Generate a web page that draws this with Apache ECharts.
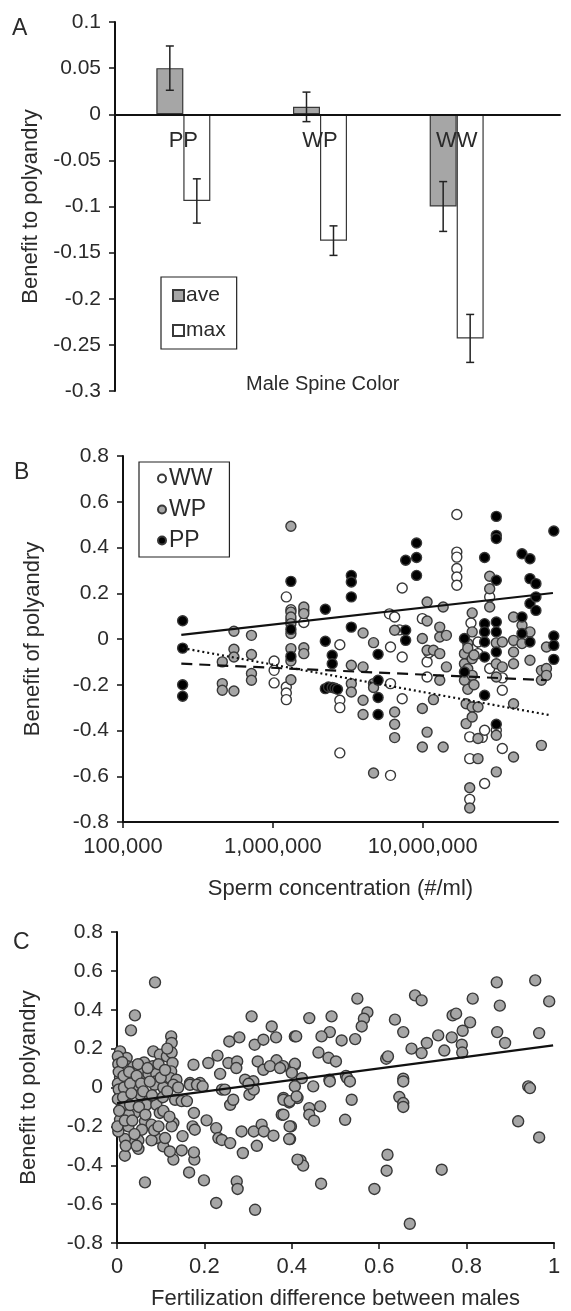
<!DOCTYPE html>
<html>
<head>
<meta charset="utf-8">
<script src="https://cdn.jsdelivr.net/npm/echarts@6/dist/echarts.min.js"></script>
<style>
html,body{margin:0;padding:0;background:#fff}
#chart{width:571px;height:1311px}
</style>
</head>
<body>
<div id="chart"></div>
<script>
// ---- panel A: bars by male spine colour
const spineColors = ['PP', 'WP', 'WW']
const aveBenefit = [0.05, 0.008, -0.1]
const aveErr = [0.024, 0.016, 0.027]
const maxBenefit = [-0.094, -0.137, -0.243]
const maxErr = [0.024, 0.016, 0.026]

// ---- panel B: benefit vs sperm concentration, [conc (#/ml), benefit]
const wwPoints = [
	[1.02e6,-0.096],[1.02e6,-0.137],[1.02e6,-0.192],
	[1.23e6,0.184],[1.23e6,-0.21],[1.23e6,-0.236],[1.23e6,-0.265],
	[1.32e6,0.128],[1.32e6,0.082],[1.61e6,0.125],[1.61e6,0.072],
	[2.8e6,-0.025],[2.8e6,-0.268],[2.8e6,-0.3],[2.8e6,-0.498],
	[6.0e6,0.11],[6.1e6,-0.035],[6.1e6,-0.195],[6.1e6,-0.596],[6.5e6,0.096],
	[7.0e6,0.04],[7.3e6,0.223],[7.3e6,-0.079],[7.3e6,-0.261],
	[9.95e6,0.089],[1.07e7,-0.1],[1.07e7,-0.166],[1.1e7,-0.06],
	[1.69e7,0.544],[1.69e7,0.38],[1.69e7,0.358],[1.69e7,0.308],[1.69e7,0.271],[1.69e7,0.235],
	[2.06e7,-0.428],[2.06e7,-0.523],[2.06e7,-0.701],[2.1e7,0.07],[2.16e7,-0.045],
	[2.34e7,-0.013],[2.34e7,-0.064],[2.5e7,-0.43],[2.59e7,-0.632],[2.59e7,-0.399],
	[2.8e7,-0.129],[2.8e7,0.184],[3.1e7,-0.399],[3.4e7,-0.224],[3.4e7,-0.479],[3.4e7,-0.17]
]
const wpPoints = [
	[4.6e5,-0.1],[4.6e5,-0.195],[4.6e5,-0.224],
	[5.5e5,0.034],[5.5e5,-0.045],[5.5e5,-0.079],[5.5e5,-0.227],
	[7.2e5,0.016],[7.2e5,-0.068],[7.2e5,-0.151],[7.2e5,-0.18],
	[1.32e6,0.493],[1.32e6,0.118],[1.32e6,0.096],[1.32e6,0.067],[1.32e6,0.024],[1.32e6,-0.042],[1.32e6,-0.096],[1.32e6,-0.178],
	[1.61e6,0.14],[1.61e6,0.111],[1.61e6,-0.038],[1.61e6,-0.064],
	[3.34e6,-0.115],[3.34e6,-0.195],[3.34e6,-0.232],
	[4.0e6,0.026],[4.0e6,-0.122],[4.0e6,-0.268],[4.0e6,-0.33],
	[4.7e6,-0.016],[4.7e6,-0.195],[4.7e6,-0.212],[4.7e6,-0.586],
	[6.5e6,0.038],[6.5e6,-0.319],[6.5e6,-0.373],[6.5e6,-0.431],
	[9.95e6,0.002],[9.95e6,-0.304],[9.95e6,-0.472],
	[1.07e7,0.162],[1.07e7,0.079],[1.07e7,-0.049],[1.07e7,-0.407],
	[1.18e7,-0.049],[1.18e7,-0.265],
	[1.3e7,0.052],[1.3e7,0.009],[1.3e7,-0.064],[1.3e7,-0.18],
	[1.37e7,0.14],[1.37e7,-0.472],[1.44e7,0.016],[1.44e7,-0.122],
	[1.9e7,-0.064],[1.9e7,-0.108],[1.9e7,-0.18],[1.95e7,-0.283],[1.95e7,-0.37],
	[2.0e7,-0.02],[2.0e7,-0.04],[2.0e7,-0.13],[2.0e7,-0.22],
	[2.06e7,-0.65],[2.06e7,-0.739],
	[2.14e7,0.114],[2.14e7,0.031],[2.14e7,-0.086],[2.14e7,-0.159],[2.14e7,-0.297],[2.14e7,-0.341],
	[2.2e7,-0.07],[2.2e7,-0.2],
	[2.34e7,-0.297],[2.34e7,-0.435],[2.34e7,-0.523],
	[2.8e7,0.274],[2.8e7,0.22],[2.8e7,0.14],
	[3.1e7,-0.017],[3.1e7,-0.108],[3.1e7,-0.166],[3.1e7,-0.421],[3.1e7,-0.581],
	[3.4e7,-0.013],[3.4e7,-0.122],
	[4.04e7,0.096],[4.04e7,-0.006],[4.04e7,-0.057],[4.04e7,-0.108],[4.04e7,-0.283],[4.04e7,-0.516],
	[4.6e7,0.06],[4.6e7,-0.02],[5.2e7,0.031],[5.2e7,-0.093],
	[6.2e7,-0.137],[6.2e7,-0.18],[6.2e7,-0.465],
	[6.7e7,-0.035],[6.7e7,-0.129],[6.7e7,-0.159]
]
const ppPoints = [
	[2.5e5,0.08],[2.5e5,-0.04],[2.5e5,-0.2],[2.5e5,-0.25],
	[1.32e6,0.252],[1.32e6,0.042],[1.32e6,-0.076],
	[2.24e6,0.13],[2.24e6,-0.01],[2.24e6,-0.217],
	[2.35e6,-0.21],[2.49e6,-0.071],[2.49e6,-0.108],[2.49e6,-0.212],[2.6e6,-0.215],[2.7e6,-0.22],
	[3.34e6,0.278],[3.34e6,0.249],[3.34e6,0.184],[3.34e6,0.052],
	[5.04e6,-0.067],[5.04e6,-0.18],[5.04e6,-0.256],[5.04e6,-0.33],
	[7.7e6,0.344],[7.7e6,0.038],[7.7e6,-0.006],
	[9.1e6,0.42],[9.1e6,0.356],[9.1e6,0.278],
	[1.9e7,0.002],[1.9e7,-0.144],
	[2.59e7,0.356],[2.59e7,0.067],[2.59e7,0.031],[2.59e7,-0.013],[2.59e7,-0.079],[2.59e7,-0.246],
	[3.1e7,0.536],[3.1e7,0.453],[3.1e7,0.439],[3.1e7,0.257],[3.1e7,0.074],[3.1e7,0.031],[3.1e7,-0.057],[3.1e7,-0.373],
	[4.6e7,0.373],[4.6e7,0.096],[4.6e7,0.024],
	[5.2e7,0.351],[5.2e7,0.264],[5.2e7,0.155],[5.2e7,-0.013],
	[5.7e7,0.242],[5.7e7,0.184],[5.7e7,0.125],
	[7.5e7,0.472],[7.5e7,0.013],[7.5e7,-0.028],[7.5e7,-0.089]
]
const concTicks = [100000, 1000000, 10000000]
// fitted lines (end points)
const ppFit = [[2.45e5, 0.018], [7.4e7, 0.201]]
const wpFit = [[2.45e5, -0.108], [6.7e7, -0.18]]
const wwFit = [[2.5e5, -0.04], [7.2e7, -0.334]]

// ---- panel C: benefit vs fertilization difference, [diff, benefit]
const fertPoints = [
	[0.087,0.541],[0.041,0.371],[0.032,0.294],[0.007,0.186],[0.006,0.143],[0.007,0.092],[0.007,0.05],[0.022,0.152],
	[0.024,0.109],[0.037,0.105],[0.022,0.044],[0.062,0.129],[0.06,0.075],[0.072,0.07],[0.083,0.186],[0.098,0.169],
	[0.082,0.109],[0.09,0.07],[0.088,0.031],[0.114,0.16],[0.124,0.263],[0.125,0.229],[0.125,0.18],[0.127,0.126],
	[0.124,0.083],[0.122,0.048],[0.136,0.04],[0.175,0.117],[0.167,0.023],[0.19,0.023],[0.209,0.126],[0.23,0.164],
	[0.236,0.07],[0.255,0.126],[0.257,0.237],[0.28,0.258],[0.275,0.134],[0.273,0.1],[0.308,0.366],[0.315,0.22],
	[0.322,0.134],[0.335,0.246],[0.335,0.091],[0.354,0.314],[0.364,0.258],[0.365,0.14],[0.35,0.11],[0.38,0.11],
	[0.407,0.263],[0.407,0.117],[0.293,0.04],[0.312,0.032],
	[0.869,0.541],[0.957,0.551],[0.989,0.443],[0.876,0.421],[0.814,0.457],[0.682,0.474],[0.697,0.448],[0.55,0.457],
	[0.573,0.386],[0.565,0.354],[0.56,0.314],[0.636,0.349],[0.655,0.285],[0.768,0.371],[0.776,0.38],[0.808,0.335],
	[0.791,0.292],[0.87,0.285],[0.966,0.28],[0.888,0.229],[0.735,0.268],[0.766,0.258],[0.709,0.229],[0.674,0.2],
	[0.697,0.177],[0.749,0.19],[0.789,0.22],[0.79,0.18],[0.616,0.148],[0.62,0.16],[0.655,0.045],[0.545,0.249],
	[0.514,0.242],[0.487,0.285],[0.468,0.263],[0.491,0.366],[0.44,0.357],[0.41,0.263],[0.461,0.18],[0.484,0.153],
	[0.501,0.134],[0.407,0.122],[0.4,0.075],[0.423,0.048],[0.486,0.04],[0.524,0.06],[0.527,0.048],[0.449,0.006],
	[0.941,0.006],[0.373,0.1],
	[0.945,-0.003],[0.918,-0.174],[0.966,-0.257],[0.743,-0.423],[0.67,-0.701],[0.619,-0.346],[0.617,-0.428],[0.589,-0.522],
	[0.467,-0.495],[0.42,-0.375],[0.426,-0.402],[0.396,-0.265],[0.398,-0.2],[0.377,-0.14],[0.381,-0.054],[0.394,-0.077],
	[0.413,-0.054],[0.44,-0.106],[0.44,-0.14],[0.465,-0.097],[0.451,-0.171],[0.407,0.006],[0.487,0.031],[0.522,-0.166],
	[0.537,-0.063],[0.533,0.031],[0.646,-0.049],[0.655,-0.08],[0.655,-0.1],[0.655,0.031],
	[0.064,-0.488],[0.018,-0.351],[0.227,-0.594],[0.316,-0.629],[0.199,-0.478],[0.274,-0.483],[0.276,-0.522],[0.165,-0.437],
	[0.288,-0.337],[0.32,-0.3],[0.177,-0.371],[0.129,-0.371],[0.148,-0.324],[0.176,-0.334],[0.106,-0.303],[0.121,-0.329],
	[0.09,-0.26],[0.079,-0.272],[0.049,-0.316],[0.049,-0.272],[0.034,-0.272],[0.018,-0.265],[0.003,-0.226],[0.007,-0.166],
	[0.011,-0.097],[0.007,-0.042],[0.022,0.006],[0.045,0.0],[0.041,-0.131],[0.026,-0.2],[0.027,-0.14],[0.064,-0.174],
	[0.079,-0.191],[0.057,-0.217],[0.053,-0.037],[0.076,-0.046],[0.067,-0.089],[0.09,-0.089],[0.098,-0.131],[0.106,-0.12],
	[0.086,0.014],[0.106,0.0],[0.129,0.014],[0.133,-0.063],[0.129,-0.183],[0.125,-0.2],[0.148,-0.07],[0.167,0.014],
	[0.183,0.014],[0.196,0.006],[0.176,-0.131],[0.173,-0.2],[0.178,-0.217],[0.16,-0.07],[0.205,-0.169],[0.227,-0.209],
	[0.232,-0.26],[0.24,-0.27],[0.259,-0.286],[0.259,-0.089],[0.266,-0.063],[0.24,-0.011],[0.247,-0.011],[0.285,-0.226],
	[0.313,-0.226],[0.331,-0.191],[0.336,-0.226],[0.358,-0.248],[0.303,-0.037],[0.313,-0.011],[0.301,0.019],[0.381,-0.14],
	[0.394,-0.265],[0.395,-0.2],[0.381,-0.063],[0.395,-0.07],[0.411,-0.046],[0.413,-0.371],
	[0.002,0.16],[0.003,0.12],[0.004,0.08],[0.002,0.02],[0.004,-0.01],[0.002,-0.06],[0.005,-0.12],[0.001,-0.2],
	[0.012,0.13],[0.015,0.06],[0.016,0.0],[0.014,-0.05],[0.018,-0.17],[0.028,0.08],[0.03,0.02],[0.033,-0.03],
	[0.03,-0.09],[0.035,-0.17],[0.04,-0.24],[0.045,0.06],[0.048,0.12],[0.05,-0.1],[0.055,0.02],[0.06,-0.02],
	[0.065,-0.14],[0.07,0.1],[0.075,0.03],[0.08,-0.04],[0.085,-0.22],[0.095,0.12],[0.1,0.05],[0.105,-0.05],
	[0.11,0.09],[0.115,-0.02],[0.12,-0.15],[0.095,-0.2],[0.045,-0.3],[0.02,-0.3],[0.11,-0.26],[0.14,0.0],
	[0.15,-0.25],[0.115,0.2]
]
const fertFit = [[0, -0.08], [0.998, 0.217]]

const FONT = '"Liberation Sans", Arial, sans-serif'
const TXT = '#2a2a2a'
const EDGE = '#383838'
const GREY = '#a6a6a6'

const lineAxis = {show: true, onZero: false, lineStyle: {color: '#111', width: 2}}
const tick = {show: true, length: 6, lineStyle: {color: '#111', width: 1.5}}
const label = {color: TXT, fontSize: 21, fontFamily: FONT}
const nameStyle = {color: TXT, fontSize: 22, fontFamily: FONT}

const valueY = (grid, min, max, interval, name, gap) => ({
	type: 'value', gridIndex: grid, min: min, max: max, interval: interval,
	name: name, nameLocation: 'middle', nameGap: gap, nameTextStyle: nameStyle,
	axisLine: lineAxis, axisTick: tick, splitLine: {show: false},
	axisLabel: Object.assign({margin: 14}, label)
})

const errorRender = (offset) => (params, api) => {
	const i = api.value(0)
	const hi = api.coord([i, api.value(1) + api.value(2)])
	const lo = api.coord([i, api.value(1) - api.value(2)])
	const x = hi[0] + offset
	const st = {stroke: '#222', lineWidth: 1.5}
	return {type: 'group', children: [
		{type: 'line', shape: {x1: x, y1: hi[1], x2: x, y2: lo[1]}, style: st},
		{type: 'line', shape: {x1: x - 4, y1: hi[1], x2: x + 4, y2: hi[1]}, style: st},
		{type: 'line', shape: {x1: x - 4, y1: lo[1], x2: x + 4, y2: lo[1]}, style: st}
	]}
}

const scatter = (name, data, fill, size) => ({
	name: name, type: 'scatter', xAxisIndex: name === 'C' ? 3 : 2, yAxisIndex: name === 'C' ? 3 : 2,
	data: data, symbolSize: size,
	itemStyle: {color: fill, borderColor: EDGE, borderWidth: 1.4, opacity: 1}
})

const fitLine = (data, grid, type) => ({
	type: 'line', xAxisIndex: grid, yAxisIndex: grid, data: data, symbol: 'none', z: 5,
	lineStyle: {color: '#111', width: 2.2, type: type}
})

const panelLabel = (text, x, y) => ({
	type: 'text', left: x, top: y,
	style: {text: text, fontSize: 23, fontFamily: FONT, fill: TXT}
})

// panel A plot box; the category axis is lifted from the bottom up to y = 0
const gridA = {left: 115, top: 22, width: 410, height: 369}
const yMinA = -0.3, yMaxA = 0.1
const zeroOffset = -gridA.height * (0 - yMinA) / (yMaxA - yMinA)

const chart = echarts.init(document.getElementById('chart'), null, {renderer: 'canvas'})
chart.setOption({
	animation: false,
	backgroundColor: '#fff',
	textStyle: {fontFamily: FONT},
	grid: [
		gridA,
		{left: 115, top: 22, width: 445, height: 369},
		{left: 123, top: 456, width: 435, height: 366},
		{left: 117, top: 932, width: 437, height: 311}
	],
	xAxis: [
		{
			type: 'category', gridIndex: 0, data: spineColors, z: 10,
			offset: zeroOffset,
			axisLine: {show: true, onZero: false, lineStyle: {color: '#111', width: 2}},
			axisTick: {show: false},
			axisLabel: Object.assign({margin: 16}, label, {fontSize: 22})
		},
		{
			type: 'value', gridIndex: 1, min: 0, max: 1,
			axisLine: {show: true, onZero: true, lineStyle: {color: '#111', width: 2}},
			axisTick: {show: false}, axisLabel: {show: false}, splitLine: {show: false}
		},
		{
			type: 'log', gridIndex: 2, min: 100000, max: 80000000, logBase: 10,
			name: 'Sperm concentration (#/ml)', nameLocation: 'middle', nameGap: 56,
			nameTextStyle: nameStyle,
			axisLine: lineAxis,
			axisTick: Object.assign({customValues: concTicks}, tick),
			splitLine: {show: false}, minorTick: {show: false},
			axisLabel: Object.assign({margin: 14, customValues: concTicks,
				formatter: v => Math.round(v).toLocaleString('en-US')}, label, {fontSize: 22})
		},
		{
			type: 'value', gridIndex: 3, min: 0, max: 1, interval: 0.2,
			name: 'Fertilization difference between males', nameLocation: 'middle', nameGap: 45,
			nameTextStyle: nameStyle,
			axisLine: lineAxis, axisTick: tick, splitLine: {show: false},
			axisLabel: Object.assign({margin: 13}, label, {fontSize: 22})
		}
	],
	yAxis: [
		valueY(0, yMinA, yMaxA, 0.05, 'Benefit to polyandry', 68),
		{type: 'value', gridIndex: 1, min: yMinA, max: yMaxA, show: false},
		valueY(2, -0.8, 0.8, 0.2, 'Benefit of polyandry', 79),
		valueY(3, -0.8, 0.8, 0.2, 'Benefit to polyandry', 77)
	],
	legend: [
		{
			data: ['ave', 'max'], orient: 'vertical', left: 161, top: 277,
			icon: 'rect', itemWidth: 11, itemHeight: 11, itemGap: 14,
			padding: [8, 11, 8, 11], borderColor: '#222', borderWidth: 1.2,
			textStyle: {color: TXT, fontSize: 21, fontFamily: FONT, padding: [0, 0, 0, -3]}
		},
		{
			data: ['WW', 'WP', 'PP'], orient: 'vertical', left: 139, top: 462,
			itemWidth: 8, itemHeight: 8, itemGap: 8,
			padding: [5, 17, 5, 18], borderColor: '#222', borderWidth: 1.2,
			textStyle: {color: TXT, fontSize: 23, fontFamily: FONT, padding: [0, 0, 0, -2]}
		}
	],
	graphic: [
		panelLabel('A', 12, 17),
		panelLabel('B', 14, 461),
		panelLabel('C', 13, 931),
		{
			type: 'text', left: 246, top: 374,
			style: {text: 'Male Spine Color', fontSize: 20, fontFamily: FONT, fill: TXT}
		}
	],
	series: [
		{
			name: 'ave', type: 'bar', xAxisIndex: 0, yAxisIndex: 0, data: aveBenefit,
			barWidth: 27, barGap: '0%',
			itemStyle: {color: GREY, borderColor: EDGE, borderWidth: 1.2}
		},
		{
			name: 'max', type: 'bar', xAxisIndex: 0, yAxisIndex: 0, data: maxBenefit,
			barWidth: 27, barGap: '0%',
			itemStyle: {color: '#fff', borderColor: EDGE, borderWidth: 1.2}
		},
		{
			type: 'custom', xAxisIndex: 0, yAxisIndex: 0, z: 4,
			data: aveBenefit.map((v, i) => [i, v, aveErr[i]]),
			renderItem: errorRender(-13.5)
		},
		{
			type: 'custom', xAxisIndex: 0, yAxisIndex: 0, z: 4,
			data: maxBenefit.map((v, i) => [i, v, maxErr[i]]),
			renderItem: errorRender(13.5)
		},
		scatter('WW', wwPoints, '#fff', 10),
		scatter('WP', wpPoints, GREY, 10),
		scatter('PP', ppPoints, '#000', 10),
		fitLine(ppFit, 2, 'solid'),
		fitLine(wpFit, 2, [11, 7]),
		fitLine(wwFit, 2, [2, 3]),
		scatter('C', fertPoints, GREY, 11),
		fitLine(fertFit, 3, 'solid')
	]
})
</script>
</body>
</html>
